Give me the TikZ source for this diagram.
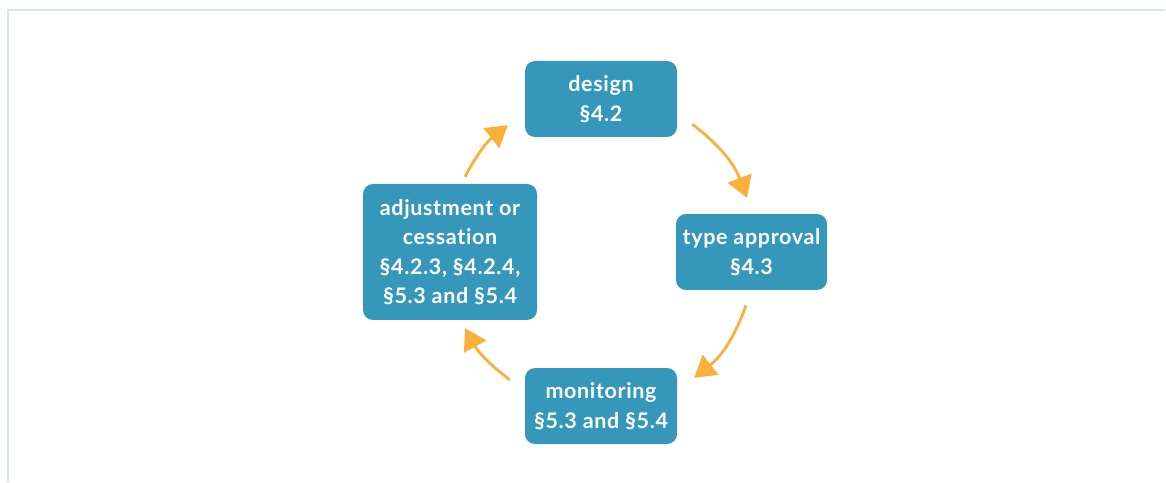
\documentclass[tikz,border=0pt]{standalone}
\usepackage{fontspec}
\setmainfont[Ligatures=NoCommon, LetterSpace=3]{Lato}
\usepackage{xcolor}
\usepackage{tikz}
\usetikzlibrary{arrows.meta,positioning}
\definecolor{boxblue}{HTML}{3598BB}
\definecolor{arroworange}{HTML}{FBB03B}
\definecolor{framegray}{HTML}{D5E5EF}

\tikzset{
    stage/.style={fill=boxblue, text=white, rounded corners=10pt, align=center,
        minimum width=152pt, minimum height=76pt, inner sep=0pt,
        font=\fontsize{21.5}{29.5}\selectfont\bfseries},
    cyc/.style={draw=arroworange, line width=2.8pt,
        -{Triangle[length=21pt,width=25pt]}, bend left=16}
}

\begin{document}
\begin{tikzpicture}[x=1pt,y=1pt]
        \useasboundingbox (0,0) rectangle (1166,482);
        \draw[framegray, line width=1.5pt] (8,0) -- (8,472) -- (1165,472);

        \node[stage] (design) at (601,383) {design\\\S4.2};
        \node[stage, minimum width=151pt] (approval) at (751.5,230) {type approval\\\S4.3};
        \node[stage] (monitoring) at (601,76) {monitoring\\\S5.3 and \S5.4};
        \node[stage, minimum width=174pt, minimum height=136pt] (adjust) at (450,230)
            {adjustment or\\cessation\\\S4.2.3, \S4.2.4,\\\S5.3 and \S5.4};

        \draw[cyc] ([shift={(15,13)}]design.south east) to ([shift={(-4.5,16)}]approval.north);
        \draw[cyc] ([shift={(-5.5,-15)}]approval.south) to ([shift={(17,-10)}]monitoring.north east);
        \draw[cyc, bend left=12] ([shift={(-15,-12)}]monitoring.north west) to ([shift={(15,-8)}]adjust.south);
        \draw[cyc, bend left=12] ([shift={(15,7)}]adjust.north) to ([shift={(-17,12)}]design.south west);
    \end{tikzpicture}
\end{document}
